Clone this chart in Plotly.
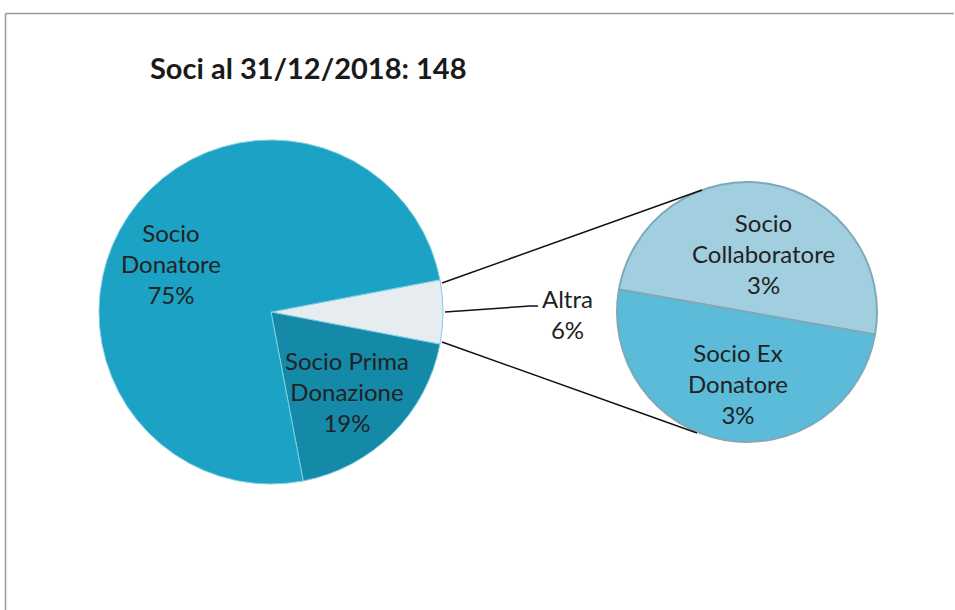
"""Soci al 31/12/2018 — pie of pie."""

import plotly.graph_objects as go

W, H = 955, 610

# dati
main_labels = ["Altra", "Socio Prima Donazione", "Socio Donatore"]
main_values = [6, 19, 75]
main_text = ["Altra<br>6%", "Socio Prima<br>Donazione<br>19%", "Socio<br>Donatore<br>75%"]

sub_labels = ["Socio Collaboratore", "Socio Ex Donatore"]
sub_values = [3, 3]
sub_text = ["Socio<br>Collaboratore<br>3%", "Socio Ex<br>Donatore<br>3%"]

title_text = "Soci al 31/12/2018: 148"

main_colors = ["#E6ECEF", "#1489A8", "#1BA2C4"]
sub_colors = ["#A2CFDF", "#5BBBD9"]


def px(x):
    return x / W


def py(y):
    return 1 - y / H


def dom(cx, cy, r):
    return dict(x=[px(cx - r), px(cx + r)], y=[py(cy + r), py(cy - r)])


fig = go.Figure()

fig.add_trace(go.Pie(
    labels=main_labels,
    values=main_values,
    sort=False,
    direction="clockwise",
    rotation=90 - main_values[0] / sum(main_values) * 180,
    marker=dict(colors=main_colors, line=dict(color="#7FCFE3", width=1)),
    textinfo="none",
    hoverinfo="label+percent",
    domain=dom(271, 312, 172),
    showlegend=False,
))

fig.add_trace(go.Pie(
    labels=sub_labels,
    values=sub_values,
    sort=False,
    direction="clockwise",
    rotation=-80,
    marker=dict(colors=sub_colors, line=dict(color="#7DA9B8", width=2)),
    textinfo="none",
    hoverinfo="label+value",
    domain=dom(747, 312, 130),
    showlegend=False,
))

# etichette (posizioni come nel grafico Excel)
label_pos = {
    "Socio Donatore": (171, 263),
    "Socio Prima Donazione": (347, 391),
    "Altra": (567, 314),
}
sub_pos = {
    "Socio Collaboratore": (763, 254),
    "Socio Ex Donatore": (738, 383),
}

annotations = []
for lab, txt in zip(main_labels, main_text):
    x, y = label_pos[lab]
    annotations.append(dict(x=px(x), y=py(y), xref="paper", yref="paper", text=txt,
                            showarrow=False, xanchor="center", yanchor="middle"))
for lab, txt in zip(sub_labels, sub_text):
    x, y = sub_pos[lab]
    annotations.append(dict(x=px(x), y=py(y), xref="paper", yref="paper", text=txt,
                            showarrow=False, xanchor="center", yanchor="middle"))

annotations.append(dict(x=px(148), y=py(68), xref="paper", yref="paper",
                        text=f"<b>{title_text}</b>", showarrow=False,
                        xanchor="left", yanchor="middle",
                        font=dict(size=29, color="#1A1A1A")))


def seg(x0, y0, x1, y1, color="#111", width=1.5):
    return dict(type="line", xref="paper", yref="paper",
                x0=px(x0), y0=py(y0), x1=px(x1), y1=py(y1),
                line=dict(color=color, width=width))


shapes = [
    # bordo dell'area grafico
    seg(5.5, 13.5, W - 1, 13.5, color="#9A9A9A", width=1.5),
    seg(5.5, 13.5, 5.5, H, color="#9A9A9A", width=1.5),
    # linee di collegamento
    seg(442, 283, 702, 190),
    seg(442, 342, 697, 433),
    # richiamo etichetta "Altra"
    seg(445, 312, 530, 306),
    seg(530, 306, 538, 306),
]

fig.update_layout(
    width=W,
    height=H,
    margin=dict(l=0, r=0, t=0, b=0),
    paper_bgcolor="white",
    plot_bgcolor="white",
    font=dict(family="Lato, 'Open Sans', sans-serif", size=24, color="#222"),
    annotations=annotations,
    shapes=shapes,
)

fig.write_html(
    "out.html",
    config={"displayModeBar": False},
    post_script="document.body.style.margin='0';",
)
